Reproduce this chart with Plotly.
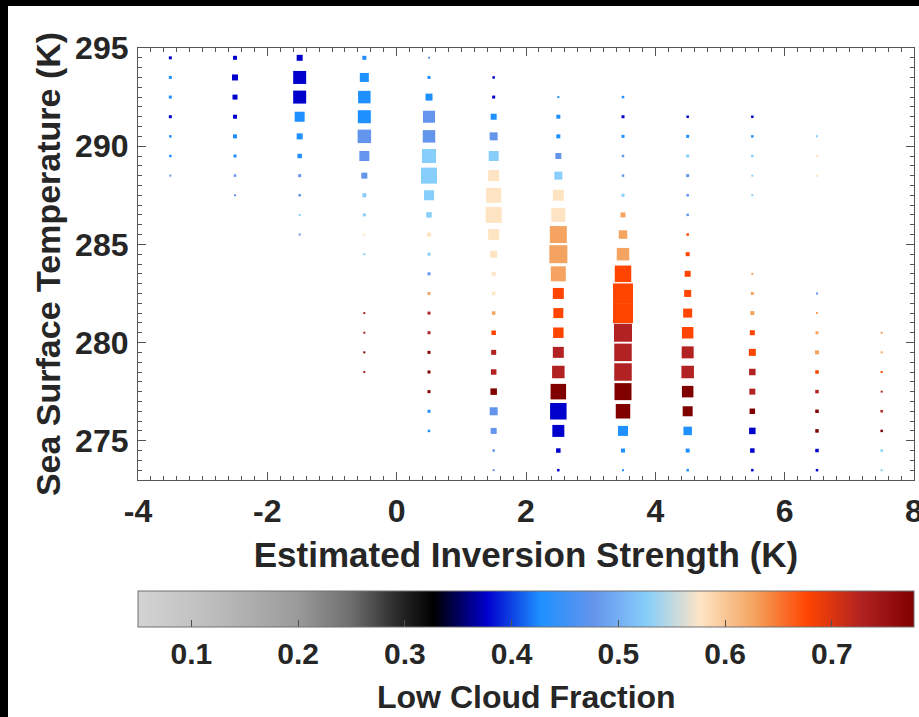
import plotly.graph_objects as go

# ---------------- data ----------------
# low-cloud-fraction class values (centre of each colour class)
MB, DB, CB, LS, BQ, SB, OR, FB, MR = 0.377, 0.427, 0.477, 0.527, 0.577, 0.627, 0.677, 0.727, 0.777

col_m35_sst = [294.5, 293.5, 292.5, 291.5, 290.5, 289.5, 288.5]
col_m35_lcf = [MB, DB, DB, MB, DB, DB, CB]
col_m35_frq = [3, 3, 3, 3, 2.5, 2.5, 2]

col_m25_sst = [294.5, 293.5, 292.5, 291.5, 290.5, 289.5, 288.5, 287.5]
col_m25_lcf = [MB, MB, MB, MB, DB, DB, CB, CB]
col_m25_frq = [4, 6, 5, 4, 4, 3, 2.5, 2]

col_m15_sst = [294.5, 293.5, 292.5, 291.5, 290.5, 289.5, 288.5, 287.5, 286.5, 285.5]
col_m15_lcf = [MB, MB, MB, DB, DB, DB, CB, CB, LS, CB]
col_m15_frq = [6, 13, 13, 10, 6, 4.5, 3, 2.5, 2, 2]

col_m05_sst = [294.5, 293.5, 292.5, 291.5, 290.5, 289.5, 288.5, 287.5, 286.5, 285.5, 284.5,
               281.5, 280.5, 279.5, 278.5]
col_m05_lcf = [DB, DB, DB, DB, CB, CB, CB, LS, LS, BQ, LS, FB, FB, MR, FB]
col_m05_frq = [4, 9, 12.5, 13, 13.5, 10, 6, 4, 3, 2, 2, 2, 2, 2, 2]

col_p05_sst = [294.5, 293.5, 292.5, 291.5, 290.5, 289.5, 288.5, 287.5, 286.5, 285.5, 284.5,
               283.5, 282.5, 281.5, 280.5, 279.5, 278.5, 277.5, 276.5, 275.5]
col_p05_lcf = [CB, DB, DB, CB, CB, LS, LS, LS, LS, BQ, LS, CB, SB, FB, FB, MR, MR, MR, DB, DB]
col_p05_frq = [2, 3, 7, 12, 12.5, 14, 16, 10, 5.5, 4, 3, 3, 3, 3, 3, 3, 3, 3, 3, 2.5]

col_p15_sst = [293.5, 292.5, 291.5, 290.5, 289.5, 288.5, 287.5, 286.5, 285.5, 284.5, 283.5,
               282.5, 281.5, 280.5, 279.5, 278.5, 277.5, 276.5, 275.5, 274.5, 273.5]
col_p15_lcf = [MB, MB, DB, CB, LS, BQ, BQ, BQ, BQ, BQ, BQ, BQ, SB, OR, FB, FB, MR, CB, CB, CB, CB]
col_p15_frq = [2.5, 3, 6, 8, 10, 11, 15, 16, 11, 7, 4, 3.5, 3.5, 4.5, 5, 5.5, 6.5, 8, 6, 2.5, 2]

col_p25_sst = [292.5, 291.5, 290.5, 289.5, 288.5, 287.5, 286.5, 285.5, 284.5, 283.5, 282.5,
               281.5, 280.5, 279.5, 278.5, 277.5, 276.5, 275.5, 274.5, 273.5]
col_p25_lcf = [DB, DB, DB, CB, LS, BQ, BQ, SB, SB, SB, OR, OR, OR, FB, FB, MR, MB, MB, MB, MB]
col_p25_frq = [2, 4, 4, 6, 8, 11, 14, 17, 18, 15, 11, 10, 10.5, 11, 12.5, 15.5, 16.5, 12, 4.5, 2.5]

col_p35_sst = [292.5, 291.5, 290.5, 289.5, 288.5, 287.5, 286.5, 285.5, 284.5, 283.5, 282.5,
               281.5, 280.5, 279.5, 278.5, 277.5, 276.5, 275.5, 274.5, 273.5]
col_p35_lcf = [DB, MB, DB, CB, CB, LS, SB, SB, SB, OR, OR, OR, FB, FB, FB, MR, MR, DB, DB, DB]
col_p35_frq = [2.5, 3, 3, 2.5, 2.5, 3, 5, 8.5, 12.5, 16.5, 20, 20, 18, 17.5, 17.5, 17, 14.5, 10, 4, 2]

col_p45_sst = [291.5, 290.5, 289.5, 288.5, 287.5, 286.5, 285.5, 284.5, 283.5, 282.5, 281.5,
               280.5, 279.5, 278.5, 277.5, 276.5, 275.5, 274.5, 273.5]
col_p45_lcf = [MB, DB, LS, CB, CB, CB, OR, OR, OR, OR, OR, OR, FB, FB, MR, MR, DB, DB, DB]
col_p45_frq = [2.5, 3, 3, 3, 2.5, 2.5, 2.5, 4, 6, 7, 9, 11.5, 12, 12.5, 11.5, 10, 8.5, 4, 2.5]

col_p55_sst = [291.5, 290.5, 289.5, 288.5, 287.5, 283.5, 282.5, 281.5, 280.5, 279.5, 278.5,
               277.5, 276.5, 275.5, 274.5, 273.5]
col_p55_lcf = [MB, DB, LS, LS, LS, SB, SB, SB, OR, OR, FB, FB, MR, MB, MB, MB]
col_p55_frq = [2.5, 2.5, 2.5, 2, 2, 2, 3, 4, 5, 7, 6.5, 6, 5.5, 6.5, 4.5, 2.5]

col_p65_sst = [290.5, 289.5, 288.5, 282.5, 281.5, 280.5, 279.5, 278.5, 277.5, 276.5, 275.5,
               274.5, 273.5]
col_p65_lcf = [LS, BQ, BQ, CB, SB, SB, SB, OR, FB, MR, MR, MB, MB]
col_p65_frq = [2, 2, 2, 2, 2, 3, 4, 3.5, 3.5, 3.5, 3.5, 3.5, 2.5]

col_p75_sst = [280.5, 279.5, 278.5, 277.5, 276.5, 275.5, 274.5, 273.5]
col_p75_lcf = [SB, SB, OR, FB, FB, MR, LS, LS]
col_p75_frq = [2, 2, 2, 2, 2.5, 2.5, 2.5, 2]

eis_bins = [-3.5, -2.5, -1.5, -0.5, 0.5, 1.5, 2.5, 3.5, 4.5, 5.5, 6.5, 7.5]

x_tickvals = [-4, -2, 0, 2, 4, 6, 8]
x_ticktext = ["-4", "-2", "0", "2", "4", "6", "8"]
y_tickvals = [275, 280, 285, 290, 295]
cb_tickvals = [0.1, 0.2, 0.3, 0.4, 0.5, 0.6, 0.7]
cb_ticktext = ["0.1", "0.2", "0.3", "0.4", "0.5", "0.6", "0.7"]

# ---------------- assemble ----------------
columns = [
    (col_m35_sst, col_m35_lcf, col_m35_frq),
    (col_m25_sst, col_m25_lcf, col_m25_frq),
    (col_m15_sst, col_m15_lcf, col_m15_frq),
    (col_m05_sst, col_m05_lcf, col_m05_frq),
    (col_p05_sst, col_p05_lcf, col_p05_frq),
    (col_p15_sst, col_p15_lcf, col_p15_frq),
    (col_p25_sst, col_p25_lcf, col_p25_frq),
    (col_p35_sst, col_p35_lcf, col_p35_frq),
    (col_p45_sst, col_p45_lcf, col_p45_frq),
    (col_p55_sst, col_p55_lcf, col_p55_frq),
    (col_p65_sst, col_p65_lcf, col_p65_frq),
    (col_p75_sst, col_p75_lcf, col_p75_frq),
]
xs, ys, cs, ss = [], [], [], []
for xb, (sst, lcf, frq) in zip(eis_bins, columns):
    xs += [xb] * len(sst)
    ys += sst
    cs += lcf
    ss += frq

CMIN, CMAX = 0.05, 0.777


def n(v):
    return (v - CMIN) / (CMAX - CMIN)


colorscale = [
    [n(0.05), "#D3D3D3"],
    [n(0.12), "#BDBDBD"],
    [n(0.20), "#9A9A9A"],
    [n(0.25), "#6E6E6E"],
    [n(0.29), "#2E2E2E"],
    [n(0.327), "#000000"],
    [n(MB), "#0000CD"],
    [n(DB), "#1E90FF"],
    [n(CB), "#6495ED"],
    [n(LS), "#87CEFA"],
    [n(BQ), "#FFE4C4"],
    [n(SB), "#F4A460"],
    [n(OR), "#FF4500"],
    [n(FB), "#B22222"],
    [1.0, "#800000"],
]

W, H = 919, 717
ML, MR_, MT, MB_ = 138, 5, 48, 237
PW, PH = W - ML - MR_, H - MT - MB_


def px_x(p):
    return (p - ML) / PW


def px_y(p):
    return (H - MB_ - p) / PH


TXT = "#262626"
FONT = "Liberation Sans"

fig = go.Figure()
fig.add_trace(go.Scatter(
    x=xs, y=ys, mode="markers",
    marker=dict(
        symbol="square", size=ss, color=cs, colorscale=colorscale,
        cmin=CMIN, cmax=CMAX, showscale=True, opacity=1,
        line=dict(width=0),
        colorbar=dict(
            orientation="h", x=0.5, xanchor="center",
            y=px_y(591), yanchor="top", len=1.0, lenmode="fraction",
            thickness=36, thicknessmode="pixels", xpad=0, ypad=0,
            outlinewidth=1, outlinecolor="#707070",
            ticks="inside", ticklen=7, tickwidth=1, tickcolor="#505050",
            tickvals=cb_tickvals, ticktext=cb_ticktext,
            tickfont=dict(family=FONT, size=30, color=TXT, weight=700),
        ),
    ),
    hoverinfo="skip", showlegend=False,
))

axis_common = dict(
    showgrid=False, zeroline=False, showline=True, linecolor="#555555",
    linewidth=1.2, mirror="allticks", ticks="inside", ticklen=8,
    tickwidth=1, tickcolor="#555555", ticklabeloverflow="allow",
    tickfont=dict(family=FONT, size=32, color=TXT, weight=700),
)

fig.update_xaxes(
    range=[-4, 8], tickvals=x_tickvals, ticktext=x_ticktext,
    minor=dict(dtick=0.2, ticks="inside", ticklen=4, tickcolor="#555555"),
    title=dict(text="Estimated Inversion Strength (K)", standoff=14,
               font=dict(family=FONT, size=35, color=TXT, weight=700)),
    ticklabelstandoff=2,
    **axis_common,
)
fig.update_yaxes(
    range=[273, 295], tickvals=y_tickvals,
    minor=dict(dtick=0.5, ticks="inside", ticklen=4, tickcolor="#555555"),
    title=dict(text="Sea Surface Temperature (K)", standoff=4,
               font=dict(family=FONT, size=34, color=TXT, weight=700)),
    ticklabelstandoff=2,
    **axis_common,
)

fig.update_layout(
    width=W, height=H,
    margin=dict(l=ML, r=MR_, t=MT, b=MB_, autoexpand=False),
    paper_bgcolor="white", plot_bgcolor="white",
    shapes=[
        dict(type="rect", xref="paper", yref="paper", x0=px_x(0), x1=px_x(8),
             y0=px_y(H), y1=px_y(0), fillcolor="black", line=dict(width=0)),
        dict(type="rect", xref="paper", yref="paper", x0=px_x(0), x1=px_x(W),
             y0=px_y(6), y1=px_y(0), fillcolor="black", line=dict(width=0)),
    ],
    annotations=[
        dict(text="Low Cloud Fraction", xref="paper", yref="paper",
             x=px_x((ML + W - MR_) / 2), y=px_y(697), xanchor="center",
             yanchor="middle", showarrow=False,
             font=dict(family=FONT, size=32, color=TXT, weight=700)),
    ],
)

fig.write_html("out.html", config={"displayModeBar": False})
